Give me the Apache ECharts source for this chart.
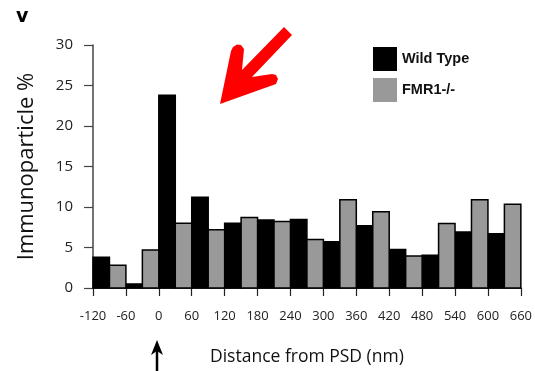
<!DOCTYPE html>
<html>
<head>
<meta charset="utf-8">
<script src="https://cdn.jsdelivr.net/npm/echarts@6/dist/echarts.min.js"></script>
<style>
  html, body {margin: 0; padding: 0; background: #fff;}
  #chart {width: 535px; height: 371px;}
</style>
</head>
<body>
<div id="chart"></div>
<script>
// bin starts (nm), each 60 nm bin split into a Wild Type half and an FMR1-/- half
const binStarts = [-120, -60, 0, 60, 120, 180, 240, 300, 360, 420, 480, 540, 600];
const wildType = [3.8, 0.5, 23.8, 11.2, 8.0, 8.4, 8.45, 5.7, 7.7, 4.75, 4.05, 6.9, 6.7];
const fmr1 = [2.8, 4.7, 8.0, 7.2, 8.7, 8.2, 6.0, 10.9, 9.4, 3.95, 7.95, 10.9, 10.35];
const binWidth = 60;

const font = "Open Sans";

const wtData = binStarts.map((s, i) => [s, s + binWidth / 2, wildType[i]]);
const fmData = binStarts.map((s, i) => [s + binWidth / 2, s + binWidth, fmr1[i]]);

function renderBar(params, api) {
    const p0 = api.coord([api.value(0), 0]);
    const p1 = api.coord([api.value(1), api.value(2)]);
    return {
        type: "rect",
        shape: {x: p0[0], y: p1[1], width: p1[0] - p0[0], height: p0[1] - p1[1]},
        style: {fill: api.visual("color"), stroke: "#000", lineWidth: 1.5}
    };
}

const myChart = echarts.init(document.getElementById("chart"));
myChart.setOption({
    animation: false,
    grid: {left: 93, right: 14, top: 45, bottom: 83},
    legend: {
        orient: "vertical",
        left: 368,
        top: 42,
        itemWidth: 24,
        itemHeight: 24,
        itemGap: 7,
        icon: "rect",
        data: ["Wild Type", "FMR1-/-"],
        textStyle: {fontFamily: "Liberation Sans", fontWeight: "bold", fontSize: 14.5, color: "#111"}
    },
    xAxis: {
        type: "value",
        min: -120,
        max: 660,
        interval: 60,
        name: "Distance from PSD (nm)",
        nameLocation: "middle",
        nameGap: 60,
        nameTextStyle: {fontFamily: font, fontSize: 17.5, color: "#111"},
        splitLine: {show: false},
        axisLine: {onZero: false, lineStyle: {color: "#000", width: 1.5}},
        axisTick: {length: 8, lineStyle: {color: "#222", width: 1.2}},
        axisLabel: {fontFamily: font, fontSize: 13, color: "#222", margin: 22}
    },
    yAxis: {
        type: "value",
        min: 0,
        max: 30,
        interval: 5,
        name: "Immunoparticle %",
        nameLocation: "middle",
        nameGap: 55,
        nameTextStyle: {fontFamily: font, fontSize: 22, color: "#111"},
        splitLine: {show: false},
        axisLine: {show: true, onZero: false, lineStyle: {color: "#444", width: 1.5}},
        axisTick: {show: true, length: 9, lineStyle: {color: "#444", width: 1.2}},
        axisLabel: {fontFamily: font, fontSize: 15, color: "#222", margin: 20}
    },
    graphic: [
        {type: "text", left: 16, top: 8, style: {text: "v", fontFamily: "DejaVu Sans", fontWeight: "bold", fontSize: 19, fill: "#000"}},
        {
            type: "polygon",
            shape: {points: [[220, 104], [231, 51], [233, 47], [237, 44.5], [241, 45], [244, 49], [242, 70], [284, 27], [292, 35], [252, 77], [272, 74], [276, 75], [278, 79], [276, 84]]},
            style: {fill: "#ff0000"}
        },
        {type: "line", shape: {x1: 157, y1: 350, x2: 157, y2: 371}, style: {stroke: "#000", lineWidth: 2.5}},
        {type: "polygon", shape: {points: [[157, 340], [151, 355], [157, 351], [163, 355]]}, style: {fill: "#000"}}
    ],
    series: [
        {
            name: "Wild Type",
            type: "custom",
            renderItem: renderBar,
            encode: {x: [0, 1], y: 2},
            itemStyle: {color: "#000"},
            data: wtData
        },
        {
            name: "FMR1-/-",
            type: "custom",
            renderItem: renderBar,
            encode: {x: [0, 1], y: 2},
            itemStyle: {color: "#999"},
            data: fmData
        }
    ]
});
</script>
</body>
</html>
